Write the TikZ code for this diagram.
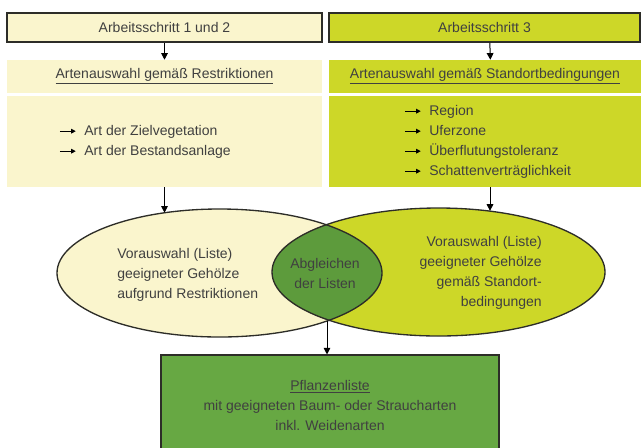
\documentclass[tikz,border=0pt]{standalone}
\usepackage{fontspec}
\setmainfont{Liberation Sans}
\usepackage{xcolor}
\usetikzlibrary{arrows.meta, shapes.geometric}

\definecolor{cream}{RGB}{250,245,205}
\definecolor{lime}{RGB}{205,215,40}
\definecolor{lensgreen}{RGB}{93,155,60}
\definecolor{boxgreen}{RGB}{103,168,67}
\definecolor{txtgray}{RGB}{64,64,64}
\definecolor{edgegray}{RGB}{45,45,40}

\newcommand{\listarrow}{\tikz[baseline=-0.6ex]\draw[-{Triangle[length=3.5pt,width=3.5pt]}, line width=0.8pt, black] (0pt,0pt) -- (12pt,0pt);\hspace{6pt}}

\begin{document}
\begin{tikzpicture}[x=0.75pt, y=-0.75pt, font=\fontsize{10.5}{15}\selectfont, text=txtgray]

        % 1. Frame of the picture (pixel coordinates, y pointing down)
        \useasboundingbox (0,0) rectangle (641,447);
        \clip (0,0) rectangle (641,447);

        \tikzset{stepbox/.style={draw=edgegray, line width=1.2pt, minimum height=21.75pt, inner sep=0pt}} % Top boxes
        \tikzset{band/.style={inner sep=0pt}} % Coloured panels, no border
        \tikzset{arr/.style={-{Triangle[length=5pt,width=5pt]}, line width=0.75pt, draw=black}}
        \tikzset{plain/.style={inner sep=0pt}}

        \def\rxL{121.875pt}
        \def\rxR{124.875pt}
        \def\ry{48pt}

        % 2. Working steps
        \node[stepbox, fill=cream, minimum width=236.25pt] (step12) at (164.5,27.5) {Arbeitsschritt 1 und 2};
        \node[stepbox, fill=lime, minimum width=233.25pt] (step3) at (484.5,27.5) {Arbeitsschritt 3};

        % 3. Selection panels
        \node[band, fill=cream, minimum width=236.25pt, minimum height=24.75pt] (headL) at (164.5,76.5) {\underline{Artenauswahl gemäß Restriktionen}};
        \node[band, fill=cream, minimum width=236.25pt, minimum height=68.25pt] (bodyL) at (164.5,141.5) {};
        \node[band, fill=lime, minimum width=234pt, minimum height=24.75pt] (headR) at (485,76.5) {\underline{Artenauswahl gemäß Standortbedingungen}};
        \node[band, fill=lime, minimum width=234pt, minimum height=68.25pt] (bodyR) at (485,141.5) {};

        \node[plain, align=left, anchor=west] (critL) at (59,142) {\listarrow Art der Zielvegetation\\ \listarrow Art der Bestandsanlage};
        \node[plain, align=left, anchor=west] (critR) at (404,142) {\listarrow Region\\ \listarrow Uferzone\\ \listarrow Überflutungstoleranz\\ \listarrow Schattenverträglichkeit};

        % 4. Preselection ellipses and their overlap
        \node[ellipse, fill=cream, minimum width=243.75pt, minimum height=96pt, inner sep=0pt] (ellL) at (219.5,273) {};
        \node[ellipse, fill=lime, minimum width=249.75pt, minimum height=96pt, inner sep=0pt] (ellR) at (438.5,272) {};
        \begin{scope}
            \clip (ellL.center) ellipse [x radius=\rxL, y radius=\ry];
            \fill[lensgreen] (ellR.center) ellipse [x radius=\rxR, y radius=\ry];
        \end{scope}
        \draw[edgegray, line width=1pt] (ellL.center) ellipse [x radius=\rxL, y radius=\ry];
        \draw[edgegray, line width=1pt] (ellR.center) ellipse [x radius=\rxR, y radius=\ry];
        \coordinate (lensB) at (327,320.5); % Lower corner of the overlap

        \node[plain, align=left, anchor=west] (preL) at (117,275) {Vorauswahl (Liste)\\geeigneter Gehölze\\aufgrund Restriktionen};
        \node[plain, align=center] (match) at (325,273.5) {Abgleichen\\der Listen};
        \node[plain, align=right, anchor=east] (preR) at (542,273) {Vorauswahl (Liste)\\geeigneter Gehölze\\gemäß Standort-\\bedingungen};

        % 5. Result
        \node[draw=edgegray, line width=0.8pt, fill=boxgreen, minimum width=253.5pt, minimum height=75pt, align=center] (plants) at (330,405) {\underline{Pflanzenliste}\\mit geeigneten Baum- oder Straucharten\\inkl. Weidenarten};

        % 6. Arrows
        \draw[arr] (step12) -- (headL);
        \draw[arr] ([xshift=4pt]step3.south) -- ([xshift=4pt]headR.north);
        \draw[arr] (bodyL.south) -- (bodyL.south |- ellL.133);
        \draw[arr] ([xshift=3.75pt]bodyR.south) -- ([xshift=3.75pt]bodyR.south |- ellR.50);
        \draw[arr] (lensB) -- (lensB |- plants.north);

    \end{tikzpicture}
\end{document}
